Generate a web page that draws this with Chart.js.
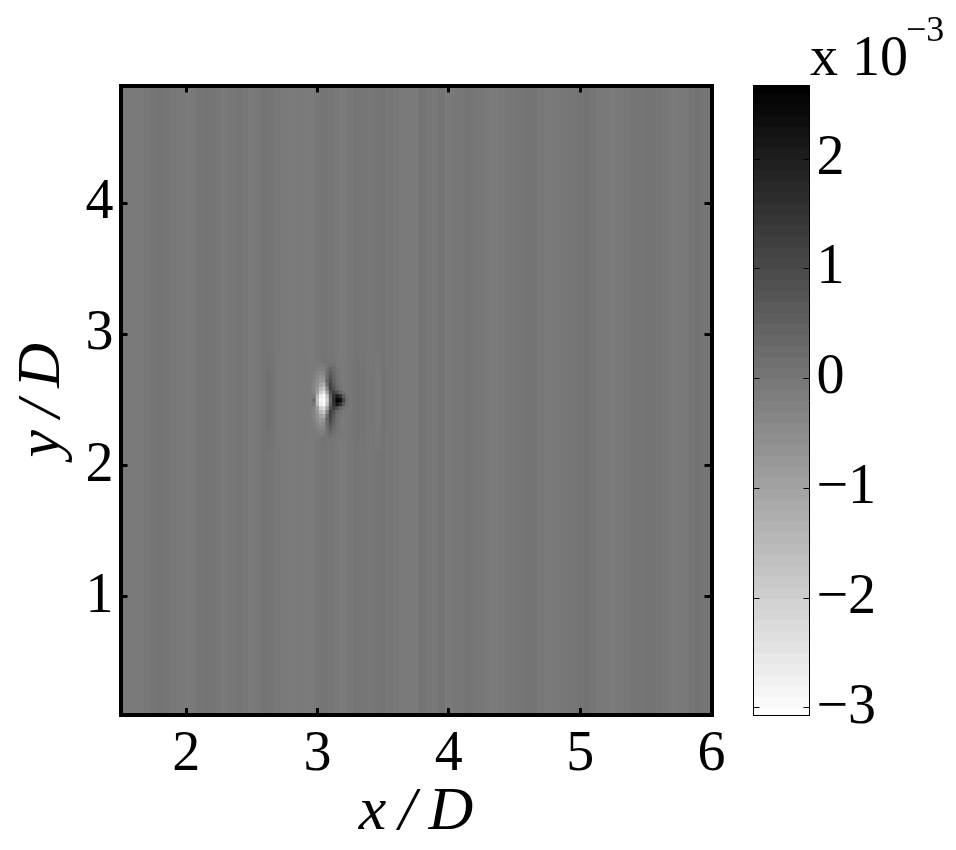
<!DOCTYPE html>
<html>
<head>
<meta charset="utf-8">
<title>x/D y/D field</title>
<script src="https://cdn.jsdelivr.net/npm/chart.js@4/dist/chart.umd.js"></script>
<style>
  body { margin: 0; background: #fff; width: 956px; height: 850px; position: relative; overflow: hidden; }
  canvas { position: absolute; top: 0; }
  #field { left: 0; }
  #bar { left: 735px; }
</style>
</head>
<body>
<canvas id="field" width="735" height="850"></canvas>
<canvas id="bar" width="221" height="850"></canvas>
<script>
const colorMin = -3.07;
const colorMax = 2.67;

// background stripes, x = 1.5 + 0.05 * i, values in units of 1e-3
const stripeValues = [
  -0.04, -0.06, -0.07, -0.05, -0.02, 0.01, 0.06, 0.04, -0.02, -0.06,
  -0.08, -0.06, 0.01, 0.07, 0.03, -0.03, -0.07, -0.02, 0.07, 0.02,
  -0.07, -0.02, 0.07, 0.02, -0.04, -0.07, -0.1, -0.06, -0.07, -0.1,
  -0.03, 0.07, 0.01, -0.06, -0.1, -0.02, 0.07, 0.01, -0.04, 0.01,
  0.07, 0.02, -0.04, -0.06, -0.08, -0.1, 0.07, 0.01, -0.02, 0.07,
  -0.08, -0.04, 0.0, 0.05, 0.0, -0.04, -0.07, -0.09, -0.06, -0.02,
  0.01, 0.03, 0.05, 0.08, 0.0, -0.08, -0.06, -0.02, 0.0, 0.02,
  0.05, 0.08, 0.03, -0.03, -0.06, -0.09, -0.04, -0.02, 0.01, 0.04,
  0.06, 0.08, 0.03, -0.04, -0.08, -0.06, -0.02, 0.03, 0.08, 0.04, 0.0
];

// faint wake lines either side of the disturbance, outer band then inner band
const wakeX = [2.625, 2.65, 2.7, 2.725, 3.35, 3.4, 3.45, 3.475, 3.5];
const wakeOuter = [0.1, 0.06, -0.07, -0.07, 0.04, -0.02, -0.02, -0.02, 0.07];
const wakeInner = [0.14, 0.11, -0.1, -0.1, 0.08, 0.02, -0.08, -0.08, 0.09];

// disturbance cells
const cellX = [2.9, 2.925, 2.95, 2.975, 3.0, 3.025, 3.05, 3.075, 3.1, 3.125, 3.15, 3.175, 3.2, 3.225, 3.25, 3.275, 3.3];
const cellY = [2.8, 2.77, 2.74, 2.71, 2.68, 2.65, 2.62, 2.59, 2.56, 2.53, 2.5, 2.47, 2.44, 2.41, 2.38, 2.35, 2.32, 2.29, 2.26, 2.23, 2.2];
const cellValues = [
  [-0.07, -0.07, -0.1, -0.06, -0.03, 0.02, 0.07, 0.04, 0.03, 0.0, -0.06, -0.08, -0.1, -0.06, -0.02, 0.03, 0.07],
  [-0.07, -0.07, -0.1, -0.07, -0.08, -0.1, -0.06, 0.03, 0.14, 0.1, -0.03, -0.08, -0.1, -0.06, -0.02, 0.03, 0.07],
  [-0.07, -0.07, -0.1, -0.1, -0.18, -0.28, -0.22, 0.1, 0.4, 0.25, 0.05, -0.06, -0.1, -0.06, -0.02, 0.03, 0.07],
  [-0.07, -0.07, -0.1, -0.15, -0.3, -0.4, -0.35, 0.2, 0.6, 0.35, 0.1, -0.05, -0.1, -0.06, -0.02, 0.03, 0.07],
  [-0.07, -0.07, -0.1, -0.2, -0.4, -0.6, -0.55, 0.3, 0.8, 0.45, 0.1, -0.05, -0.1, -0.06, -0.02, 0.03, 0.07],
  [-0.07, -0.07, -0.12, -0.25, -0.5, -0.8, -0.75, 0.4, 1.0, 0.5, 0.15, 0.0, -0.1, -0.06, -0.02, 0.03, 0.07],
  [-0.07, -0.07, -0.15, -0.3, -0.6, -1.05, -1.25, 0.25, 1.2, 0.65, 0.2, 0.0, -0.1, -0.06, -0.02, 0.03, 0.07],
  [-0.07, -0.07, -0.15, -0.3, -0.75, -1.5, -1.85, -0.3, 1.3, 0.9, 0.35, 0.1, -0.05, -0.06, -0.02, 0.03, 0.07],
  [-0.07, -0.07, -0.15, -0.3, -0.9, -2.0, -2.4, -1.0, 0.9, 1.3, 0.9, 0.4, 0.1, -0.05, -0.02, 0.03, 0.07],
  [-0.07, -0.07, -0.1, -0.05, -1.4, -2.7, -3.0, -1.7, 0.5, 1.6, 2.0, 1.6, 0.6, 0.1, -0.02, 0.03, 0.07],
  [-0.07, -0.07, -0.1, 0.3, -1.6, -2.9, -3.05, -2.0, 0.3, 1.7, 2.6, 2.4, 1.1, 0.15, -0.02, 0.03, 0.07],
  [-0.07, -0.07, -0.1, 0.0, -1.4, -2.7, -3.0, -1.7, 0.5, 1.6, 2.1, 1.6, 0.6, 0.1, -0.02, 0.03, 0.07],
  [-0.07, -0.07, -0.15, -0.3, -0.9, -2.0, -2.3, -1.0, 0.9, 1.3, 0.9, 0.3, 0.1, -0.05, -0.02, 0.03, 0.07],
  [-0.07, -0.07, -0.15, -0.3, -0.75, -1.5, -1.8, -0.3, 1.25, 0.9, 0.3, 0.1, -0.05, -0.06, -0.02, 0.03, 0.07],
  [-0.07, -0.07, -0.12, -0.25, -0.55, -1.0, -1.15, 0.2, 1.15, 0.65, 0.2, 0.0, -0.1, -0.06, -0.02, 0.03, 0.07],
  [-0.07, -0.07, -0.1, -0.2, -0.45, -0.75, -0.7, 0.35, 1.0, 0.5, 0.15, 0.0, -0.1, -0.06, -0.02, 0.03, 0.07],
  [-0.07, -0.07, -0.1, -0.15, -0.35, -0.55, -0.5, 0.3, 0.8, 0.4, 0.1, -0.05, -0.1, -0.06, -0.02, 0.03, 0.07],
  [-0.07, -0.07, -0.1, -0.12, -0.25, -0.4, -0.35, 0.2, 0.55, 0.3, 0.08, -0.05, -0.1, -0.06, -0.02, 0.03, 0.07],
  [-0.07, -0.07, -0.1, -0.1, -0.15, -0.22, -0.15, 0.12, 0.35, 0.2, 0.03, -0.06, -0.1, -0.06, -0.02, 0.03, 0.07],
  [-0.07, -0.07, -0.1, -0.07, -0.08, -0.1, -0.04, 0.07, 0.18, 0.08, -0.03, -0.08, -0.1, -0.06, -0.02, 0.03, 0.07],
  [-0.07, -0.07, -0.1, -0.06, -0.03, 0.02, 0.07, 0.04, 0.04, 0.0, -0.06, -0.08, -0.1, -0.06, -0.02, 0.03, 0.07]
];

// colorbar levels
const barLevels = [
  -3.05, -2.95, -2.85, -2.75, -2.65, -2.55, -2.45, -2.35, -2.25, -2.15,
  -2.05, -1.95, -1.85, -1.75, -1.65, -1.55, -1.45, -1.35, -1.25, -1.15,
  -1.05, -0.95, -0.85, -0.75, -0.65, -0.55, -0.45, -0.35, -0.25, -0.15,
  -0.05, 0.05, 0.15, 0.25, 0.35, 0.45, 0.55, 0.65, 0.75, 0.85,
  0.95, 1.05, 1.15, 1.25, 1.35, 1.45, 1.55, 1.65, 1.75, 1.85,
  1.95, 2.05, 2.15, 2.25, 2.35, 2.45, 2.55, 2.65
];

const serif = '"Liberation Serif", "Times New Roman", serif';

function grayFor(v) {
  let g = Math.round(255 * (1 - (v - colorMin) / (colorMax - colorMin)));
  g = Math.max(0, Math.min(255, g));
  return 'rgb(' + g + ',' + g + ',' + g + ')';
}

// first dataset is painted last, so the cells go before the stripes
const cellRows = cellY.map((y, r) => ({
  label: 'row ' + y,
  grouped: false,
  data: cellX.map(x => ({ x: x, y: [y - 0.015, y + 0.017] })),
  backgroundColor: cellValues[r].map(grayFor),
  barPercentage: 1.1,
  categoryPercentage: 1
}));

const axisFrame = { width: 4, color: '#000', z: 1 };
const innerTicks = { drawOnChartArea: false, color: '#000', lineWidth: 3, tickLength: -7, z: 1, offset: false };

new Chart(document.getElementById('field'), {
  type: 'bar',
  data: {
    datasets: cellRows.concat([
      {
        label: 'wake inner',
        grouped: false,
        data: wakeX.map(x => ({ x: x, y: [2.28, 2.72] })),
        backgroundColor: wakeInner.map(grayFor),
        barPercentage: 1.1,
        categoryPercentage: 1
      },
      {
        label: 'wake outer',
        grouped: false,
        data: wakeX.map(x => ({ x: x, y: [2.12, 2.86] })),
        backgroundColor: wakeOuter.map(grayFor),
        barPercentage: 1.1,
        categoryPercentage: 1
      },
      {
        label: 'stripes',
        grouped: false,
        data: stripeValues.map((v, i) => ({ x: +(1.5 + i * 0.05).toFixed(3), y: [0.1, 4.9] })),
        backgroundColor: stripeValues.map(grayFor),
        barPercentage: 2.2,
        categoryPercentage: 1
      }
    ])
  },
  options: {
    responsive: false,
    animation: false,
    layout: { padding: { top: 85.5, right: 23.5, left: 0, bottom: 0 } },
    plugins: { legend: { display: false }, tooltip: { enabled: false } },
    scales: {
      x: {
        type: 'linear', min: 1.5, max: 6, offset: false,
        border: axisFrame, grid: innerTicks,
        ticks: { stepSize: 1, includeBounds: false, autoSkip: false, maxRotation: 0, color: '#000', padding: 14, font: { family: serif, size: 56 } },
        title: { display: true, text: 'x\u2009/\u2009D', color: '#000', padding: { top: 0, bottom: 0 }, font: { family: serif, size: 62, style: 'italic' } },
        afterFit: s => { s.height = 135; s.paddingRight = 0; s.paddingLeft = 0; }
      },
      y: {
        type: 'linear', min: 0.1, max: 4.9,
        border: axisFrame, grid: innerTicks,
        ticks: { stepSize: 1, includeBounds: false, autoSkip: false, color: '#000', padding: 14, font: { family: serif, size: 56 } },
        title: { display: true, text: 'y\u2009/\u2009D', color: '#000', padding: { top: 6, bottom: 0 }, font: { family: serif, size: 62, style: 'italic' } },
        afterFit: s => { s.width = 120.5; }
      },
      xTop: {
        type: 'linear', position: 'top', min: 1.5, max: 6, offset: false,
        border: axisFrame, grid: innerTicks,
        ticks: { stepSize: 1, includeBounds: false, display: false },
        afterFit: s => { s.height = 0; }
      },
      yRight: {
        type: 'linear', position: 'right', min: 0.1, max: 4.9,
        border: axisFrame, grid: innerTicks,
        ticks: { stepSize: 1, includeBounds: false, display: false },
        afterFit: s => { s.width = 0; }
      }
    }
  }
});

// "x 10^-3" above the colorbar
const exponentLabel = {
  id: 'exponentLabel',
  afterDraw(chart) {
    const ctx = chart.ctx;
    ctx.save();
    ctx.fillStyle = '#000';
    ctx.textBaseline = 'alphabetic';
    ctx.font = '56px ' + serif;
    ctx.fillText('x 10', 75, 75);
    ctx.font = '36px ' + serif;
    ctx.fillText('\u22123', 171, 41);
    ctx.restore();
  }
};

const thinFrame = { width: 1, color: '#000', z: 1 };
const barTicks = { drawOnChartArea: false, color: '#000', lineWidth: 1, tickLength: -6, z: 1 };

new Chart(document.getElementById('bar'), {
  type: 'bar',
  data: {
    labels: ['level'],
    datasets: [{
      label: 'colorbar',
      data: barLevels.map(v => ({ x: 'level', y: [v - 0.05, v + 0.06] })),
      backgroundColor: barLevels.map(grayFor),
      barPercentage: 1,
      categoryPercentage: 1
    }]
  },
  options: {
    responsive: false,
    animation: false,
    layout: { padding: { top: 85.5, bottom: 134.5, left: 18.5, right: 0 } },
    plugins: { legend: { display: false }, tooltip: { enabled: false } },
    scales: {
      x: {
        type: 'category', border: thinFrame, grid: { display: false },
        ticks: { display: false },
        afterFit: s => { s.height = 0; }
      },
      xTop: {
        type: 'category', position: 'top', labels: ['level'], border: thinFrame, grid: { display: false },
        ticks: { display: false },
        afterFit: s => { s.height = 0; }
      },
      y: {
        type: 'linear', position: 'right', min: colorMin, max: colorMax,
        border: thinFrame, grid: barTicks,
        ticks: {
          stepSize: 1, includeBounds: false, autoSkip: false, color: '#000', padding: 13,
          font: { family: serif, size: 56 },
          callback: v => (v < 0 ? '\u2212' + Math.abs(v) : String(v))
        },
        afterFit: s => { s.width = 146.5; }
      },
      yLeft: {
        type: 'linear', position: 'left', min: colorMin, max: colorMax,
        border: thinFrame, grid: barTicks,
        ticks: { stepSize: 1, includeBounds: false, display: false },
        afterFit: s => { s.width = 0; }
      }
    }
  },
  plugins: [exponentLabel]
});
</script>
</body>
</html>
